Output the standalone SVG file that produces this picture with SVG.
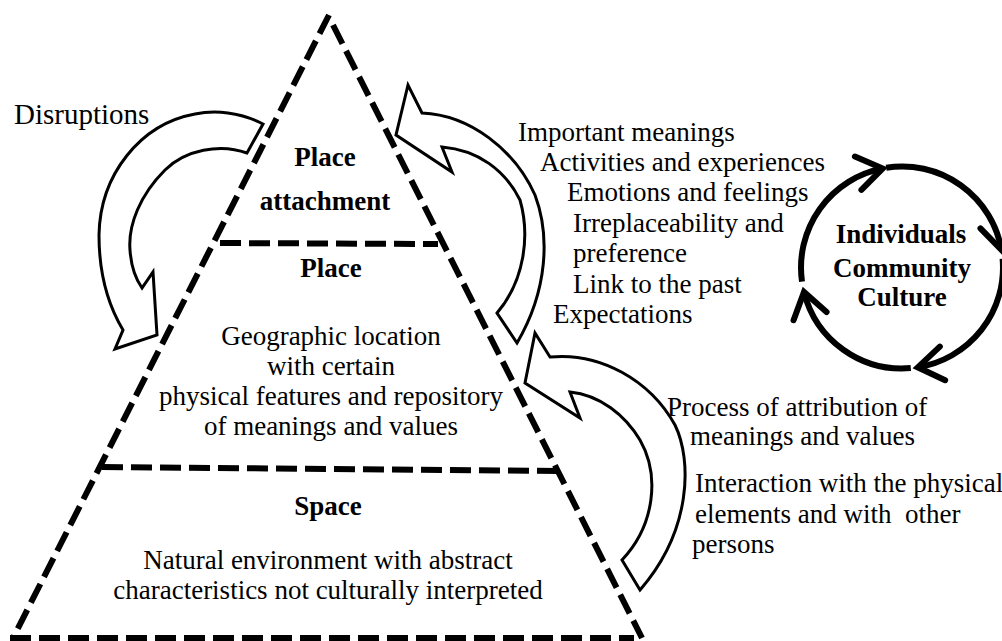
<svg xmlns="http://www.w3.org/2000/svg" width="1002" height="641" viewBox="0 0 1002 641">
<defs>
<style>
text { font-family: "Liberation Serif", "Times New Roman", serif; font-size: 27px; fill: #000; }
.b { font-weight: bold; }
.c { text-anchor: middle; }
.pre { white-space: pre; }
.dash { fill: none; stroke: #000; stroke-width: 6; stroke-dasharray: 21 8; }
.blk { fill: #fff; stroke: #000; stroke-width: 3; stroke-linejoin: miter; }
.cyc { fill: none; stroke: #000; stroke-width: 6; marker-end: url(#v); }
</style>
<marker id="v" markerUnits="userSpaceOnUse" markerWidth="70" markerHeight="70" viewBox="-35 -35 70 70" refX="0" refY="0" orient="auto" overflow="visible">
<path d="M-25,-17 L0,0 L-25,17" fill="none" stroke="#000" stroke-width="6" stroke-linecap="round" stroke-linejoin="miter"/>
</marker>
</defs>
<rect width="1002" height="641" fill="#fff"/>

<g id="connectors">
  <path id="arrow-disruptions" class="blk" d="M263,124 C240,112 215,110 195,114 C140,124 100,175 99,235 C99,275 108,305 123,330 L115,349 L157,335 L153,272 L142,288 C135,278 131,265 130,250 C128,225 140,195 165,170 C185,150 220,143 247,153 Z"/>
  <path id="arrow-meanings" class="blk" d="M422,113 C470,115 515,150 535,195 C550,235 548,290 517,343 L497,313 C525,280 530,235 520,200 C505,170 478,150 442,147 L452,172 L396,135 L408,85 Z"/>
  <path id="arrow-process" class="blk" d="M550,357 C600,352 650,380 675,425 C692,460 692,530 640,590 L622,560 C655,525 660,475 640,440 C625,415 600,395 570,392 L580,418 L525,383 L535,333 Z"/>
  <g id="cycle">
    <path class="cyc" d="M802,281.6 A101,101 0 0 1 882.7,168.4"/>
    <path class="cyc" d="M886.2,167.7 A101,101 0 0 1 1001.5,250"/>
    <path class="cyc" d="M1002.6,258.7 A101,101 0 0 1 917.8,367.3"/>
    <path class="cyc" d="M910.8,368.1 A101,101 0 0 1 804,291.9"/>
  </g>
</g>

<g id="pyramid">
  <line class="dash" x1="329" y1="15" x2="13" y2="638"/>
  <line class="dash" x1="333" y1="25" x2="642" y2="638"/>
  <line class="dash" x1="10" y1="638" x2="634" y2="638"/>
  <line class="dash" x1="220" y1="243" x2="438" y2="244"/>
  <line class="dash" x1="102" y1="467" x2="557" y2="471"/>
</g>

<g id="node-place-attachment">
  <text class="b c" x="325" y="166">Place</text>
  <text class="b c" x="325" y="210">attachment</text>
</g>
<g id="node-place">
  <text class="b c" x="331" y="277">Place</text>
  <text class="c" x="331" y="345">Geographic location</text>
  <text class="c" x="331" y="375">with certain</text>
  <text class="c" x="331" y="405">physical features and repository</text>
  <text class="c" x="331" y="435">of meanings and values</text>
</g>
<g id="node-space">
  <text class="b c" x="328" y="515">Space</text>
  <text class="c" x="328" y="569">Natural environment with abstract</text>
  <text class="c" x="328" y="599">characteristics not culturally interpreted</text>
</g>
<g id="label-disruptions">
  <text x="14" y="124" style="font-size:29px">Disruptions</text>
</g>
<g id="label-meanings">
  <text x="518" y="141">Important meanings</text>
  <text x="540" y="171">Activities and experiences</text>
  <text x="567" y="201">Emotions and feelings</text>
  <text x="573" y="232">Irreplaceability and</text>
  <text x="573" y="262">preference</text>
  <text x="573" y="293">Link to the past</text>
  <text x="553" y="323">Expectations</text>
</g>
<g id="label-process">
  <text x="667" y="416">Process of attribution of</text>
  <text x="690" y="445">meanings and values</text>
  <text x="695" y="492">Interaction with the physical</text>
  <text class="pre" x="695" y="523">elements and with  other</text>
  <text x="692" y="553">persons</text>
</g>
<g id="node-cycle">
  <text class="b c" x="901" y="243">Individuals</text>
  <text class="b c" x="902" y="277">Community</text>
  <text class="b c" x="902" y="306">Culture</text>
</g>
</svg>
